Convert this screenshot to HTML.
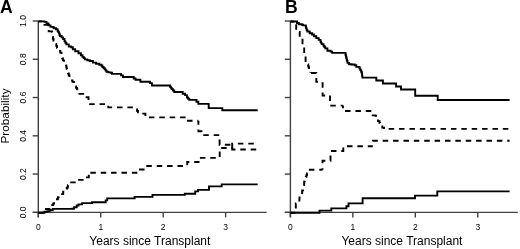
<!DOCTYPE html>
<html><head><meta charset="utf-8"><style>
html,body{margin:0;padding:0;background:#fff;}
body{width:520px;height:249px;overflow:hidden;}
svg{display:block;will-change:transform;font-family:"Liberation Sans",sans-serif;}
</style></head><body>
<svg width="520" height="249" viewBox="0 0 520 249">
<rect width="520" height="249" fill="#fff"/>
<text x="0.1" y="13.1" font-size="17.6" font-weight="bold">A</text>
<text x="284.9" y="13.1" font-size="17.6" font-weight="bold">B</text>
<line x1="38.3" y1="21.00" x2="38.3" y2="217.35" stroke="#404040" stroke-width="1.4"/>
<line x1="32.70" y1="212.35" x2="38.3" y2="212.35" stroke="#404040" stroke-width="1.4"/>
<line x1="32.70" y1="174.08" x2="38.3" y2="174.08" stroke="#404040" stroke-width="1.4"/>
<line x1="32.70" y1="135.81" x2="38.3" y2="135.81" stroke="#404040" stroke-width="1.4"/>
<line x1="32.70" y1="97.54" x2="38.3" y2="97.54" stroke="#404040" stroke-width="1.4"/>
<line x1="32.70" y1="59.27" x2="38.3" y2="59.27" stroke="#404040" stroke-width="1.4"/>
<line x1="32.70" y1="21.00" x2="38.3" y2="21.00" stroke="#404040" stroke-width="1.4"/>
<line x1="32.70" y1="212.35" x2="266.6" y2="212.35" stroke="#404040" stroke-width="1.4"/>
<line x1="38.30" y1="212.35" x2="38.30" y2="217.4" stroke="#404040" stroke-width="1.4"/>
<text x="38.30" y="230.1" font-size="8.5" text-anchor="middle">0</text>
<line x1="100.75" y1="212.35" x2="100.75" y2="217.4" stroke="#404040" stroke-width="1.4"/>
<text x="100.75" y="230.1" font-size="8.5" text-anchor="middle">1</text>
<line x1="163.20" y1="212.35" x2="163.20" y2="217.4" stroke="#404040" stroke-width="1.4"/>
<text x="163.20" y="230.1" font-size="8.5" text-anchor="middle">2</text>
<line x1="225.65" y1="212.35" x2="225.65" y2="217.4" stroke="#404040" stroke-width="1.4"/>
<text x="225.65" y="230.1" font-size="8.5" text-anchor="middle">3</text>
<text x="149.85" y="245.0" font-size="12" text-anchor="middle">Years since Transplant</text>
<text transform="translate(26.3,212.35) rotate(-90)" font-size="8.5" text-anchor="middle">0.0</text>
<text transform="translate(26.3,174.08) rotate(-90)" font-size="8.5" text-anchor="middle">0.2</text>
<text transform="translate(26.3,135.81) rotate(-90)" font-size="8.5" text-anchor="middle">0.4</text>
<text transform="translate(26.3,97.54) rotate(-90)" font-size="8.5" text-anchor="middle">0.6</text>
<text transform="translate(26.3,59.27) rotate(-90)" font-size="8.5" text-anchor="middle">0.8</text>
<text transform="translate(26.3,21.00) rotate(-90)" font-size="8.5" text-anchor="middle">1.0</text>
<text transform="translate(8.6,116) rotate(-90)" font-size="11.8" text-anchor="middle">Probability</text>
<line x1="290.4" y1="21.00" x2="290.4" y2="217.35" stroke="#404040" stroke-width="1.4"/>
<line x1="284.80" y1="212.35" x2="290.4" y2="212.35" stroke="#404040" stroke-width="1.4"/>
<line x1="284.80" y1="174.08" x2="290.4" y2="174.08" stroke="#404040" stroke-width="1.4"/>
<line x1="284.80" y1="135.81" x2="290.4" y2="135.81" stroke="#404040" stroke-width="1.4"/>
<line x1="284.80" y1="97.54" x2="290.4" y2="97.54" stroke="#404040" stroke-width="1.4"/>
<line x1="284.80" y1="59.27" x2="290.4" y2="59.27" stroke="#404040" stroke-width="1.4"/>
<line x1="284.80" y1="21.00" x2="290.4" y2="21.00" stroke="#404040" stroke-width="1.4"/>
<line x1="284.80" y1="212.35" x2="517.8" y2="212.35" stroke="#404040" stroke-width="1.4"/>
<line x1="290.40" y1="212.35" x2="290.40" y2="217.4" stroke="#404040" stroke-width="1.4"/>
<text x="290.40" y="230.1" font-size="8.5" text-anchor="middle">0</text>
<line x1="352.85" y1="212.35" x2="352.85" y2="217.4" stroke="#404040" stroke-width="1.4"/>
<text x="352.85" y="230.1" font-size="8.5" text-anchor="middle">1</text>
<line x1="415.30" y1="212.35" x2="415.30" y2="217.4" stroke="#404040" stroke-width="1.4"/>
<text x="415.30" y="230.1" font-size="8.5" text-anchor="middle">2</text>
<line x1="477.75" y1="212.35" x2="477.75" y2="217.4" stroke="#404040" stroke-width="1.4"/>
<text x="477.75" y="230.1" font-size="8.5" text-anchor="middle">3</text>
<text x="401.95" y="245.0" font-size="12" text-anchor="middle">Years since Transplant</text>
<g transform="translate(0,0.4)">
<polyline points="38.30,21.00 42.50,21.00 44.50,21.00 44.50,21.50 46.50,21.50 46.50,23.00 48.50,23.00 48.50,25.00 50.50,25.00 50.50,26.50 53.60,26.50 53.60,27.80 56.00,27.80 56.00,28.80 57.60,28.80 57.60,30.50 58.30,30.50 58.30,31.75 59.00,31.75 59.00,33.00 59.50,33.00 59.50,34.30 60.00,34.30 60.00,35.60 61.60,35.60 61.60,37.00 63.10,37.00 63.10,38.60 64.50,38.60 64.50,41.00 65.45,41.00 65.45,42.50 66.40,42.50 66.40,44.00 68.80,44.00 68.80,46.10 71.20,46.10 71.20,46.90 72.80,46.90 72.80,48.80 75.20,48.80 75.20,50.90 78.50,50.90 78.50,52.90 80.90,52.90 80.90,54.80 82.50,54.80 82.50,56.50 83.70,56.50 83.70,57.75 84.90,57.75 84.90,59.00 87.30,59.00 87.30,59.80 89.70,59.80 89.70,60.60 92.90,60.60 92.90,62.20 96.10,62.20 96.10,63.30 99.30,63.30 99.30,64.40 101.50,64.40 101.50,65.40 102.40,65.40 102.40,66.60 103.60,66.60 103.60,67.80 104.80,67.80 104.80,69.00 105.70,69.00 105.70,70.20 106.60,70.20 106.60,71.40 108.40,71.40 108.40,72.00 110.80,72.00 110.80,72.40 112.00,72.40 112.00,73.50 119.30,73.50 121.10,73.50 121.10,75.00 122.90,75.00 122.90,76.60 131.90,76.60 133.70,76.60 133.70,78.10 135.50,78.10 135.50,79.30 140.40,79.30 140.40,81.40 148.30,81.40 150.10,81.40 150.10,82.70 151.90,82.70 151.90,85.10 168.10,85.10 170.00,85.10 170.00,86.30 170.85,86.30 170.85,87.50 171.70,87.50 171.70,88.70 172.95,88.70 172.95,90.15 174.20,90.15 174.20,91.60 180.80,91.60 182.70,91.60 182.70,93.40 185.10,93.40 185.10,94.70 186.90,94.70 186.90,97.10 188.10,97.10 188.10,98.30 189.30,98.30 189.30,99.50 194.70,99.50 196.50,99.50 196.50,101.30 198.30,101.30 198.30,103.50 208.70,103.50 208.70,107.70 222.30,107.70 222.30,109.80 257.70,109.80" fill="none" stroke="#000" stroke-width="1.9"/>
<polyline points="38.30,21.00 43.30,21.00 43.30,24.50 48.70,24.50 48.70,31.00 52.00,31.00 52.00,31.50 52.10,31.50 52.10,33.17 52.20,33.17 52.20,34.83 52.30,34.83 52.30,36.50 52.90,36.50 52.90,38.50 53.50,38.50 53.50,40.50 54.50,40.50 54.50,42.00 55.50,42.00 55.50,43.50 56.25,43.50 56.25,45.50 57.00,45.50 57.00,47.50 58.00,47.50 58.00,49.00 59.00,49.00 59.00,50.50 60.25,50.50 60.25,52.25 61.50,52.25 61.50,54.00 61.75,54.00 61.75,56.00 62.00,56.00 62.00,58.00 63.00,58.00 63.00,60.00 64.00,60.00 64.00,62.00 65.00,62.00 65.00,63.50 66.00,63.50 66.00,65.00 66.33,65.00 66.33,66.67 66.67,66.67 66.67,68.33 67.00,68.33 67.00,70.00 67.50,70.00 67.50,71.50 68.00,71.50 68.00,73.00 68.75,73.00 68.75,75.00 69.50,75.00 69.50,77.00 70.25,77.00 70.25,78.50 71.00,78.50 71.00,80.00 72.50,80.00 72.50,81.50 74.00,81.50 74.00,83.00 74.50,83.00 74.50,84.50 75.00,84.50 75.00,86.00 76.00,86.00 76.00,87.50 77.00,87.50 77.00,89.00 77.50,89.00 77.50,90.50 78.00,90.50 78.00,92.00 78.50,92.00 78.50,93.50" fill="none" stroke="#000" stroke-width="1.9" stroke-dasharray="5.5 4.88" stroke-dashoffset="1.64"/>
<polyline points="78.50,93.50 85.50,93.50 85.50,96.80 88.50,96.80 88.50,103.70 108.30,103.70 108.30,107.00 134.50,107.00" fill="none" stroke="#000" stroke-width="1.9" stroke-dasharray="5.5 4.88" stroke-dashoffset="10.28"/>
<polyline points="134.50,107.00 136.00,107.00 136.00,109.00 137.00,109.00 137.00,110.50 138.00,110.50 138.00,112.00 141.00,112.00 141.00,113.20 145.40,113.20 145.40,113.60 145.40,117.00 187.00,117.00 187.00,120.40 198.40,120.40" fill="none" stroke="#000" stroke-width="1.9" stroke-dasharray="5.5 4.88" stroke-dashoffset="6.72"/>
<polyline points="198.40,120.40 198.40,130.80 201.50,130.80 201.50,134.70 219.60,134.70 219.60,144.30 232.20,144.30" fill="none" stroke="#000" stroke-width="1.9" stroke-dasharray="5.5 4.88" stroke-dashoffset="1.56"/>
<polyline points="232.20,144.30 232.20,149.10 257.70,149.10" fill="none" stroke="#000" stroke-width="1.9" stroke-dasharray="5.5 4.88" stroke-dashoffset="7.86"/>
<polyline points="38.30,212.35 44.20,212.35 44.20,208.60 49.60,208.60 50.10,208.60 50.10,206.60 50.60,206.60 50.60,204.60 53.20,204.60 53.20,203.10 54.07,203.10 54.07,201.70 54.93,201.70 54.93,200.30 55.80,200.30 55.80,198.90 57.90,198.90 57.90,196.80 58.70,196.80 58.70,195.25 59.50,195.25 59.50,193.70 63.20,193.70 63.20,191.30 64.50,191.30 64.50,189.90 65.80,189.90 65.80,188.50 66.75,188.50 66.75,187.30 67.70,187.30 67.70,186.10 67.97,186.10 67.97,184.73 68.23,184.73 68.23,183.37 68.50,183.37 68.50,182.00 76.50,182.00 76.50,179.50 84.20,179.50 84.20,177.00 88.80,177.00 88.80,172.30" fill="none" stroke="#000" stroke-width="1.9" stroke-dasharray="5.5 4.88" stroke-dashoffset="0.00"/>
<polyline points="88.80,172.30 137.50,172.30 137.50,169.10 145.50,169.10" fill="none" stroke="#000" stroke-width="1.9" stroke-dasharray="5.5 4.88" stroke-dashoffset="8.86"/>
<polyline points="145.50,169.10 145.50,165.60 187.20,165.60 187.20,161.60 199.50,161.60" fill="none" stroke="#000" stroke-width="1.9" stroke-dasharray="5.5 4.88" stroke-dashoffset="6.06"/>
<polyline points="199.50,161.60 199.50,157.50 219.70,157.50 219.70,147.60 232.20,147.60" fill="none" stroke="#000" stroke-width="1.9" stroke-dasharray="5.5 4.88" stroke-dashoffset="5.86"/>
<polyline points="232.20,147.60 232.20,143.20 257.70,143.20" fill="none" stroke="#000" stroke-width="1.9" stroke-dasharray="5.5 4.88" stroke-dashoffset="0.28"/>
<polyline points="38.30,212.35 42.80,212.35 44.40,212.35 44.40,211.40 47.50,211.40 47.50,210.90 49.60,210.90 49.60,209.80 52.70,209.80 52.70,208.50 72.30,208.50 72.30,208.30 74.10,208.30 74.10,206.90 76.70,206.90 76.70,205.10 78.50,205.10 78.50,204.00 82.10,204.00 82.10,202.70 90.10,202.70 92.10,202.70 92.10,201.90 103.20,201.90 105.70,201.90 105.70,200.00 107.20,200.00 107.20,198.00 134.60,198.00 134.60,196.50 152.50,196.50 152.50,194.50 184.80,194.50 184.80,193.30 195.20,193.30 195.20,191.00 198.10,191.00 198.10,189.50 209.00,189.50 209.00,186.00 221.70,186.00 221.70,184.00 257.70,184.00" fill="none" stroke="#000" stroke-width="1.9"/>
<polyline points="290.40,21.10 295.80,21.10 297.00,21.10 297.00,22.60 298.80,22.60 298.80,23.80 301.90,23.80 301.90,24.40 303.00,24.40 303.00,25.00 305.50,25.00 305.80,25.00 305.80,26.50 306.10,26.50 306.10,28.00 306.70,28.00 306.70,29.55 307.30,29.55 307.30,31.10 309.70,31.10 309.70,32.90 312.10,32.90 312.10,34.10 313.90,34.10 313.90,35.90 316.30,35.90 316.30,37.70 318.70,37.70 318.70,39.50 320.50,39.50 320.50,41.30 321.10,41.30 321.10,42.50 321.70,42.50 321.70,43.70 323.50,43.70 323.50,45.50 324.40,45.50 324.40,46.75 325.30,46.75 325.30,48.00 327.40,48.00 327.40,50.40 330.60,50.40 330.60,51.20 332.20,51.20 332.20,52.50 345.10,52.50 345.50,52.50 345.50,54.30 345.90,54.30 345.90,56.10 346.30,56.10 346.30,57.70 346.70,57.70 346.70,59.30 347.10,59.30 347.10,60.90 347.50,60.90 347.50,62.50 349.10,62.50 349.10,63.80 351.50,63.80 351.50,64.10 354.70,64.10 354.70,64.90 356.30,64.90 356.30,66.50 359.50,66.50 359.50,68.10 360.30,68.10 360.30,69.70 361.10,69.70 361.10,71.30 361.80,71.30 361.80,72.80 362.00,72.80 362.00,74.27 362.20,74.27 362.20,75.73 362.40,75.73 362.40,77.20 376.30,77.20 376.30,80.10 382.90,80.10 382.90,83.10 396.10,83.10 396.10,86.10 401.00,86.10 401.00,89.10 415.20,89.10 415.20,95.30 437.70,95.30 437.70,99.60 509.60,99.60" fill="none" stroke="#000" stroke-width="1.9"/>
<polyline points="290.40,21.10 296.20,21.10 296.20,31.50 299.70,31.50 299.70,37.50 302.50,37.50 302.50,45.00 304.20,45.00 304.20,46.00 304.20,53.00 305.60,53.00 305.60,55.00 305.60,63.00 307.70,63.00 307.70,64.00 308.15,64.00 308.15,65.50 308.60,65.50 308.60,67.00 309.05,67.00 309.05,68.50 309.50,68.50 309.50,70.00 310.00,70.00 310.00,71.30 310.50,71.30 310.50,72.60" fill="none" stroke="#000" stroke-width="1.9" stroke-dasharray="5.5 4.88" stroke-dashoffset="1.74"/>
<polyline points="310.50,72.60 316.30,72.60 316.30,81.50 322.60,81.50 322.60,95.10 330.00,95.10 330.00,105.20 343.00,105.20" fill="none" stroke="#000" stroke-width="1.9" stroke-dasharray="5.5 4.88" stroke-dashoffset="9.88"/>
<polyline points="343.00,105.20 343.00,110.60 371.30,110.60 371.30,115.00 375.50,115.00 375.50,115.50 376.00,115.50 376.00,117.25 376.50,117.25 376.50,119.00 378.00,119.00 378.00,120.75 379.50,120.75 379.50,122.50 380.00,122.50 380.00,124.25 380.50,124.25 380.50,126.00 382.25,126.00 382.25,127.25 384.00,127.25 384.00,128.50" fill="none" stroke="#000" stroke-width="1.9" stroke-dasharray="5.5 4.88" stroke-dashoffset="2.96"/>
<polyline points="384.00,128.50 509.60,128.50" fill="none" stroke="#000" stroke-width="1.9" stroke-dasharray="5.5 4.88" stroke-dashoffset="5.72"/>
<polyline points="290.40,212.35 295.80,212.35 295.80,203.00 299.20,203.00 299.20,201.50 299.30,201.50 299.30,200.00 299.40,200.00 299.40,198.50 299.50,198.50 299.50,197.00 300.75,197.00 300.75,195.75 302.00,195.75 302.00,194.50 302.07,194.50 302.07,193.00 302.13,193.00 302.13,191.50 302.20,191.50 302.20,190.00 303.10,190.00 303.10,188.25 304.00,188.25 304.00,186.50 304.07,186.50 304.07,184.67 304.13,184.67 304.13,182.83 304.20,182.83 304.20,181.00 304.73,181.00 304.73,179.50 305.27,179.50 305.27,178.00 305.80,178.00 305.80,176.50 306.40,176.50 306.40,174.75 307.00,174.75 307.00,173.00 307.75,173.00 307.75,171.15 308.50,171.15 308.50,169.30 322.50,169.30" fill="none" stroke="#000" stroke-width="1.9" stroke-dasharray="5.5 4.88" stroke-dashoffset="0.73"/>
<polyline points="322.50,169.30 322.50,160.30 330.50,160.30 330.50,150.60 343.30,150.60 343.30,145.90 372.80,145.90" fill="none" stroke="#000" stroke-width="1.9" stroke-dasharray="5.5 4.88" stroke-dashoffset="4.00"/>
<polyline points="372.80,145.90 372.80,140.40 509.60,140.40" fill="none" stroke="#000" stroke-width="1.9" stroke-dasharray="5.5 4.88" stroke-dashoffset="5.36"/>
<polyline points="290.40,212.35 319.50,212.35 319.50,210.20 331.30,210.20 331.30,208.00 346.40,208.00 346.40,205.80 348.50,205.80 348.50,203.00 362.60,203.00 362.60,197.80 415.00,197.80 415.00,195.20 437.30,195.20 437.30,191.00 509.60,191.00" fill="none" stroke="#000" stroke-width="1.9"/>
</g>
</svg>
</body></html>
